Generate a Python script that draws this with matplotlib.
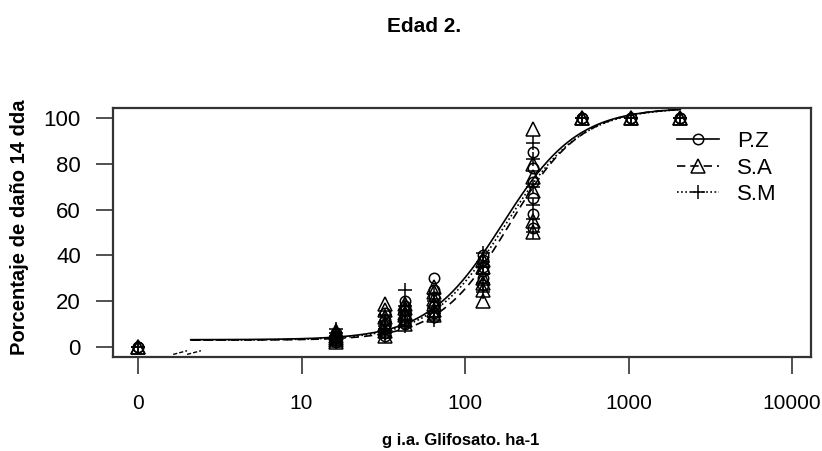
import numpy as np
import matplotlib
matplotlib.use("Agg")
import matplotlib.pyplot as plt
from matplotlib.lines import Line2D

plt.rcParams['font.family'] = ['Liberation Sans', 'DejaVu Sans']

# doses (g i.a. ha-1); dose 0 is drawn at 1 on the broken log axis
doses = [0, 16.2, 32.4, 43.2, 64.8, 129.6, 259.2, 518.4, 1036.8, 2073.6]

# % damage 14 dda, replicates per dose
pz = [[0, 0], [3, 5, 4, 6, 2, 4], [6, 8, 10, 12, 15, 5], [10, 14, 16, 18, 12, 20],
      [30, 22, 18, 25, 15, 13], [40, 35, 30, 27, 38, 33], [85, 78, 72, 65, 58, 52],
      [100, 100], [100, 100], [100, 100]]
sa = [[0, 0], [5, 3, 6, 4, 2, 7], [19, 16, 13, 10, 7, 5], [12, 15, 17, 19, 10, 14],
      [26, 21, 16, 14, 24, 19], [20, 25, 30, 38, 35, 28], [95, 80, 68, 74, 55, 50],
      [100, 100], [100, 100], [100, 100]]
sm = [[0, 0], [8, 4, 3, 5, 2, 6], [5, 8, 11, 14, 6, 9], [25, 18, 15, 12, 9, 16],
      [13, 17, 20, 23, 15, 12], [41, 37, 32, 28, 24, 35], [89, 82, 70, 62, 56, 50],
      [100, 100], [100, 100], [100, 100]]

# log-logistic fits: b, c (lower), d (upper), e (ED50)
fit_pz = (1.9, 3.2, 104.5, 170)
fit_sa = (2.0, 3.0, 104.5, 188)
fit_sm = (1.9, 3.0, 104.5, 178)

labels = ['P.Z', 'S.A', 'S.M']
markers = ['o', '^', '+']
msizes = [7.5, 9.5, 10]
lstyles = ['-', (0, (5, 3)), (0, (1, 1.5))]


def ll4(x, b, c, d, e):
    return c + (d - c) / (1 + (x / e) ** (-b))


fig = plt.figure(figsize=(8.22, 4.51), dpi=100)
ax = fig.add_axes([0.1371, 0.2091, 0.8495, 0.5525])
ax.set_xscale('log')

xplot = [d if d > 0 else 1.0 for d in doses]
xx = np.logspace(np.log10(2.1), np.log10(max(doses)), 300)

for vals, fit, mk, ms, ls in zip([pz, sa, sm], [fit_pz, fit_sa, fit_sm], markers, msizes, lstyles):
    for x, ys in zip(xplot, vals):
        ax.plot([x] * len(ys), ys, linestyle='none', marker=mk, ms=ms,
                mfc='none', mec='black', mew=1.1, color='black', zorder=3)
    ax.plot(xx, ll4(xx, *fit), color='black', lw=1.2, linestyle=ls, zorder=2)

ax.set_xlim(0.70, 13060)
ax.set_ylim(-4.2, 104.5)
ax.set_xticks([1, 10, 100, 1000, 10000])
ax.set_xticklabels(['0', '10', '100', '1000', '10000'])
ax.xaxis.set_minor_locator(matplotlib.ticker.NullLocator())
ax.set_yticks([0, 20, 40, 60, 80, 100])

ax.tick_params(axis='both', length=12, width=1.2, color='#333333')
ax.tick_params(axis='x', pad=15, labelsize=15)
ax.tick_params(axis='y', pad=11, labelsize=16)
for sp in ax.spines.values():
    sp.set_linewidth(1.6)
    sp.set_color('#333333')

# axis break marks
for a, b in [(0.215, 0.30), (0.30, 0.385)]:
    ax.plot([10 ** a, 10 ** b], [-3.2, -1.6], color='black', lw=1.0,
            linestyle=(0, (3, 1.5)), clip_on=False, zorder=4)

handles = [Line2D([], [], color='black', lw=1.2, linestyle=ls, marker=mk,
                  ms=ms, mfc='none', mec='black', mew=1.1)
           for ls, mk, ms in zip(lstyles, markers, msizes)]
ax.legend(handles, labels, loc='upper left', bbox_to_anchor=(677 / 822, 1 - 131 / 451),
          bbox_transform=fig.transFigure, frameon=False, fontsize=16,
          handlelength=1.9, handletextpad=0.8, labelspacing=0.25, borderpad=0,
          borderaxespad=0)

fig.text(424 / 822, 1 - 27 / 451, 'Edad 2.', ha='center', va='center',
         fontsize=15, fontweight='bold')
fig.text(461 / 822, 1 - 441 / 451, 'g i.a. Glifosato. ha-1', ha='center', va='center',
         fontsize=12, fontweight='bold')
fig.text(20 / 822, 1 - 227 / 451, 'Porcentaje de daño 14 dda', ha='center', va='center',
         rotation=90, fontsize=14.5, fontweight='bold')

fig.savefig('out.png', dpi=100)
